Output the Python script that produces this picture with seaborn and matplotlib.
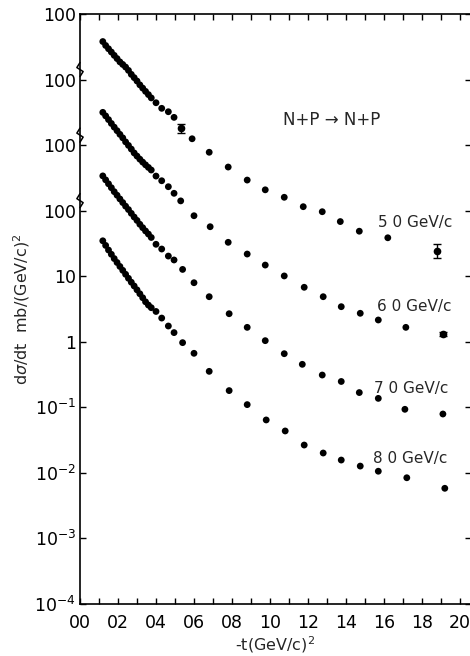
import numpy as np
import pandas as pd
import matplotlib
matplotlib.use("Agg")
import matplotlib.pyplot as plt
import seaborn as sns
from matplotlib.ticker import FixedLocator, FixedFormatter

# ---- data ; true dsigma/dt in mb/(GeV/c)^2 ----
t_dense = [0.12, 0.135, 0.15, 0.165, 0.18, 0.195, 0.21, 0.225, 0.24, 0.255, 0.27, 0.285,
           0.30, 0.315, 0.33, 0.345, 0.36, 0.375]

t_80 = t_dense + [0.40, 0.43, 0.465, 0.495, 0.54, 0.60, 0.68, 0.785, 0.88, 0.98, 1.08,
                  1.18, 1.28, 1.375, 1.475, 1.57, 1.72, 1.92]
sig_80 = [34.7, 29.5, 25.1, 21.6, 18.6, 16.2, 14.1, 12.3, 10.7, 9.3, 8.1, 7.1, 6.2, 5.4,
          4.7, 4.07, 3.63, 3.31,
          2.9, 2.3, 1.74, 1.38, 0.97, 0.667, 0.354, 0.180, 0.110, 0.0642, 0.0436, 0.0266,
          0.0201, 0.0157, 0.0127, 0.0106, 0.00843, 0.00582]

t_70 = t_dense + [0.40, 0.43, 0.465, 0.495, 0.54, 0.60, 0.68, 0.785, 0.88, 0.975, 1.075,
                  1.17, 1.275, 1.375, 1.47, 1.57, 1.71, 1.91]
sig_70 = [33.9, 29.5, 25.7, 22.4, 19.5, 17.2, 15.1, 13.3, 11.7, 10.4, 9.1, 8.0, 7.1, 6.2,
          5.5, 4.9, 4.4, 3.9,
          3.07, 2.60, 2.03, 1.77, 1.27, 0.796, 0.487, 0.268, 0.166, 0.104, 0.0658, 0.0453,
          0.0311, 0.0248, 0.0168, 0.0137, 0.00933, 0.00791]

t_60 = t_dense + [0.40, 0.43, 0.465, 0.495, 0.53, 0.60, 0.685, 0.78, 0.88, 0.975, 1.075,
                  1.18, 1.28, 1.375, 1.475, 1.57, 1.715]
sig_60 = [31.6, 27.9, 24.5, 21.4, 18.8, 16.6, 14.6, 12.9, 11.2, 9.9, 8.7, 7.6, 6.8, 6.1,
          5.5, 5.0, 4.57, 4.17,
          3.37, 2.86, 2.32, 1.84, 1.41, 0.837, 0.569, 0.329, 0.218, 0.148, 0.101, 0.0678,
          0.0487, 0.0343, 0.0272, 0.0215, 0.0166]

t_50 = t_dense + [0.40, 0.43, 0.465, 0.495, 0.59, 0.68, 0.78, 0.88, 0.975, 1.075, 1.175,
                  1.275, 1.37, 1.47, 1.62]
sig_50 = [38.0, 33.1, 29.5, 26.3, 23.4, 20.9, 18.6, 17.0, 15.5, 13.8, 12.0, 10.7, 9.5,
          8.3, 7.4, 6.6, 5.9, 5.25,
          4.43, 3.64, 3.23, 2.65, 1.25, 0.778, 0.463, 0.293, 0.208, 0.160, 0.115, 0.0964,
          0.0682, 0.0486, 0.0386]

# points drawn with error bars
err_energy = ["50", "50", "60"]
err_t = [0.53, 1.88, 1.91]
err_sig = [1.80, 0.0245, 0.0131]
err_factor = [1.17, 1.28, 1.07]

energies = ["50", "60", "70", "80"]
shift = {"50": 1000.0, "60": 100.0, "70": 10.0, "80": 1.0}
series_labels = {"50": "5 0 GeV/c", "60": "6 0 GeV/c", "70": "7 0 GeV/c", "80": "8 0 GeV/c"}
label_pos = {"50": (1.57, 67.0), "60": (1.565, 3.5), "70": (1.55, 0.197), "80": (1.54, 0.0163)}

y_ticks = [1e-4, 1e-3, 1e-2, 1e-1, 1, 10, 100, 1e3, 1e4, 1e5]
y_ticklabels = [r"10$^{-4}$", r"10$^{-3}$", r"10$^{-2}$", r"10$^{-1}$", "1", "10",
                "100", "100", "100", "100"]
x_ticks = [0.0, 0.2, 0.4, 0.6, 0.8, 1.0, 1.2, 1.4, 1.6, 1.8, 2.0]
x_ticklabels = ["00", "02", "04", "06", "08", "10", "12", "14", "16", "18", "20"]

# ---- build table ----
rows = []
for e, tt, ss in [("80", t_80, sig_80), ("70", t_70, sig_70), ("60", t_60, sig_60), ("50", t_50, sig_50)]:
    for a, b in zip(tt, ss):
        rows.append({"energy": e, "t": a, "y": b * shift[e]})
df = pd.DataFrame(rows)

sns.set_style("ticks")
plt.rcParams["font.family"] = ["DejaVu Sans"]

fig = plt.figure(figsize=(4.7, 6.56), dpi=100)
ax = fig.add_axes([80 / 470, 52 / 656, 391 / 470, 590 / 656])

sns.scatterplot(data=df, x="t", y="y", color="black", s=24, edgecolor="none",
                legend=False, ax=ax, zorder=3)

for e, tt, ss, f in zip(err_energy, err_t, err_sig, err_factor):
    yv = ss * shift[e]
    ax.errorbar([tt], [yv], yerr=[[yv - yv / f], [yv * f - yv]], fmt="o", color="black",
                ms=4.5, capsize=3, elinewidth=1, capthick=1, zorder=3)

ax.set_yscale("log")
ax.set_xlim(0, 391 / 190)
ax.set_ylim(1e-4, 1e5)

ax.yaxis.set_major_locator(FixedLocator(y_ticks))
ax.yaxis.set_major_formatter(FixedFormatter(y_ticklabels))
ax.yaxis.set_minor_locator(FixedLocator([]))
ax.xaxis.set_major_locator(FixedLocator(x_ticks))
ax.xaxis.set_major_formatter(FixedFormatter(x_ticklabels))
ax.xaxis.set_minor_locator(FixedLocator(np.arange(0.1, 2.06, 0.2)))

ax.tick_params(axis="both", which="both", direction="in", length=4, width=1,
               top=True, right=True, labelsize=12.5, colors="black")
ax.tick_params(axis="x", pad=7)
ax.tick_params(axis="y", pad=3)
for sp in ax.spines.values():
    sp.set_linewidth(1.2)
    sp.set_color("black")

# axis-break zigzags on the left spine
btr = ax.get_yaxis_transform()
for yb in [1e2, 1e3, 1e4]:
    ys = [yb * 10 ** (3 / 65.56), yb * 10 ** (8 / 65.56), yb * 10 ** (12 / 65.56), yb * 10 ** (17 / 65.56)]
    ax.plot([0, 0.008, -0.008, 0], ys, color="black", lw=1.1, transform=btr, clip_on=False)

for e in energies:
    tx, ty = label_pos[e]
    ax.text(tx, ty, series_labels[e], fontsize=11, va="center", ha="left")
ax.text(1.07, 10 ** 3.383, "N+P \u2192 N+P", fontsize=12, va="center", ha="left")

ax.set_xlabel(r"-t(GeV/c)$^2$", fontsize=11.5, labelpad=2)
ax.set_ylabel(r"d$\sigma$/dt  mb/(GeV/c)$^2$", fontsize=11.5, labelpad=2)

fig.savefig("out.png", dpi=100)
